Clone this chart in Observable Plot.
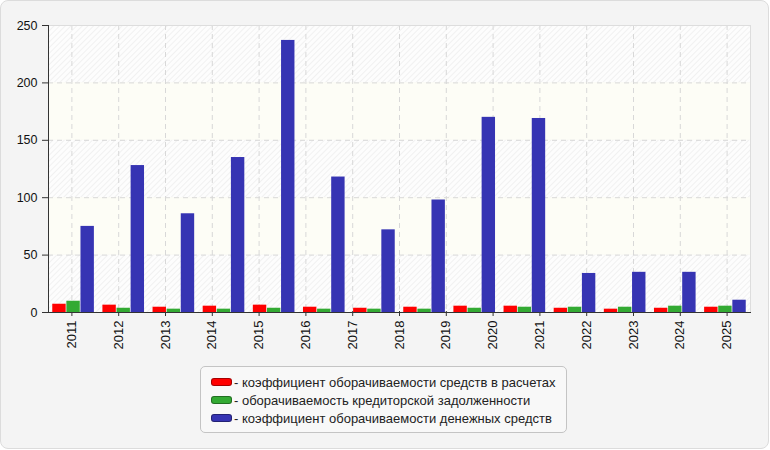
<!DOCTYPE html>
<html>
<head>
<meta charset="utf-8">
<script src="https://cdn.jsdelivr.net/npm/d3@7"></script>
<script src="https://cdn.jsdelivr.net/npm/@observablehq/plot@0.6"></script>
<style>
  html, body { margin: 0; padding: 0; background: #fff; }
  #wrap { position: relative; width: 770px; height: 450px; font-family: "Liberation Sans", Arial, sans-serif; }
  #card { position: absolute; left: 0; top: 0; width: 767px; height: 447px; background: #f4f4f4; border: 1px solid #dcdcdc; border-radius: 8px; }
  .layer { position: absolute; left: 0; top: 0; }
  #legend { position: absolute; left: 200px; top: 366px; width: 367px; height: 67px; box-sizing: border-box;
            border: 1px solid #c4c4c4; border-radius: 5px; background: #f8f8f8; padding: 8px 0 0 10px; font-size: 13px; color: #222; }
  .row { height: 17.8px; line-height: 16px; white-space: nowrap; }
  .sw { display: inline-block; width: 19px; height: 6px; border: 1px solid rgba(0,0,0,0.35); border-radius: 3px; vertical-align: 1px; margin-right: 2px; }
</style>
</head>
<body>
<div id="wrap"><div id="card"></div></div>
<script>
// Tick labels on the horizontal axis (15 labels)
const years = ["2011","2012","2013","2014","2015","2016","2017","2018","2019","2020","2021","2022","2023","2024","2025"];
// Bar groups as drawn (14 groups spread across the width)
const groups = [1,2,3,4,5,6,7,8,9,10,11,12,13,14];
const seriesNames = [
  "коэффициент оборачиваемости средств в расчетах",
  "оборачиваемость кредиторской задолженности",
  "коэффициент оборачиваемости денежных средств"
];
const seriesColors = ["#ff0000", "#33aa33", "#3634b3"];
const receivablesTurnover = [7.2, 6.4, 4.6, 5.5, 6.4, 4.6, 3.7, 4.6, 5.5, 5.5, 3.7, 2.9, 3.7, 4.6];
const payablesTurnover    = [9.8, 3.7, 2.9, 2.9, 3.7, 2.9, 2.9, 2.9, 3.7, 4.6, 4.6, 4.6, 5.5, 5.5];
const cashTurnover        = [75, 128, 86, 135, 237, 118, 72, 98, 170, 169, 34, 35, 35, 10.7];
const yTicks = [0, 50, 100, 150, 200, 250];
const bandStarts = [0, 50, 100, 150, 200];

const seriesValues = [receivablesTurnover, payablesTurnover, cashTurnover];
const rows = [];
groups.forEach((g, i) => seriesValues.forEach((vals, k) => rows.push({g, s: seriesNames[k], v: vals[i]})));
const bands = bandStarts.map((b, i) => ({y1: b, y2: b + 50, hatched: i % 2 === 0}));

const W = 770, H = 360;
const common = {
  width: W, height: H,
  marginLeft: 48, marginRight: 20, marginTop: 25, marginBottom: 48,
  style: {background: "transparent", fontFamily: "'Liberation Sans', Arial, sans-serif", fontSize: "12px", color: "#111"},
  y: {domain: [0, 250], ticks: yTicks}
};

// Layer 1: background, grid, axes
const back = Plot.plot({
  ...common,
  x: {type: "band", domain: years, paddingInner: 0, paddingOuter: 0, align: 0.5, round: false},
  marks: [
    Plot.rect(bands.filter(d => d.hatched), {y1: "y1", y2: "y2", fill: "url(#hatch)"}),
    Plot.rect(bands.filter(d => !d.hatched), {y1: "y1", y2: "y2", fill: "#fdfdf6"}),
    Plot.gridY(yTicks.slice(1, -1), {stroke: "#d8d8d8", strokeOpacity: 1, strokeDasharray: "5,4"}),
    Plot.gridX(years, {stroke: "#d8d8d8", strokeOpacity: 1, strokeDasharray: "5,4"}),
    Plot.frame({stroke: "#dddddd"}),
    Plot.axisY(yTicks, {tickSize: 6, tickPadding: 5, fontSize: 12.5, label: null, stroke: "#333"}),
    Plot.axisX(years, {tickRotate: -90, tickSize: 5, tickPadding: 4, fontSize: 13, label: null, stroke: "#333", dy: -1}),
    Plot.frame({anchor: "left", stroke: "#333"}),
    Plot.frame({anchor: "bottom", stroke: "#333"})
  ]
});
const defs = document.createElementNS("http://www.w3.org/2000/svg", "defs");
defs.innerHTML = '<pattern id="hatch" patternUnits="userSpaceOnUse" width="4" height="4" patternTransform="rotate(45)">' +
  '<rect width="4" height="4" fill="#fdfdfd"/><line x1="0" y1="0" x2="0" y2="4" stroke="#ececec" stroke-width="1.4"/></pattern>';
back.insertBefore(defs, back.firstChild);
back.classList.add("layer");

// Layer 2: bars
const bars = Plot.plot({
  ...common,
  fx: {domain: groups, paddingInner: 0.17, paddingOuter: 0.085, round: false, axis: null, label: null},
  x: {domain: seriesNames, paddingInner: 0.05, paddingOuter: 0, round: false, axis: null},
  color: {domain: seriesNames, range: seriesColors},
  marks: [
    Plot.barY(rows, {fx: "g", x: "s", y: "v", fill: "s"})
  ],
  axis: null
});
bars.classList.add("layer");
const wrap = document.getElementById("wrap");
wrap.appendChild(back);
wrap.appendChild(bars);

// Legend
const legend = document.createElement("div");
legend.id = "legend";
seriesNames.forEach((name, k) => {
  const r = document.createElement("div");
  r.className = "row";
  const sw = document.createElement("span");
  sw.className = "sw";
  sw.style.background = seriesColors[k];
  r.appendChild(sw);
  r.appendChild(document.createTextNode("- " + name));
  legend.appendChild(r);
});
wrap.appendChild(legend);
</script>
</body>
</html>
